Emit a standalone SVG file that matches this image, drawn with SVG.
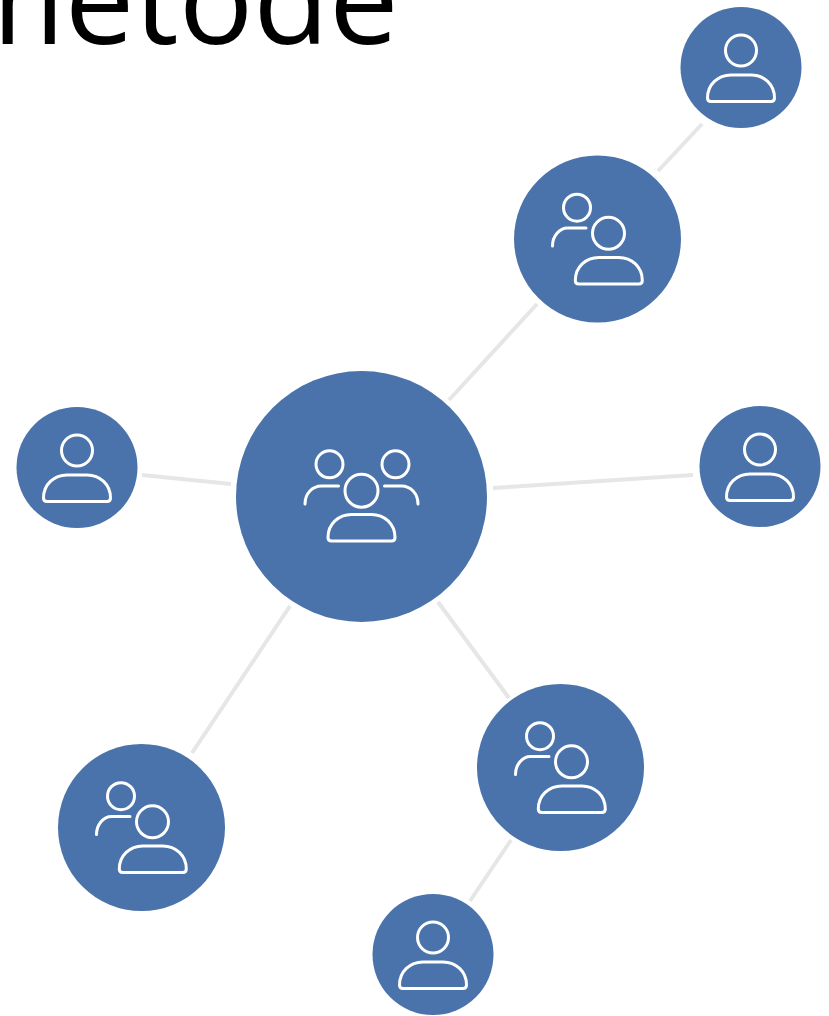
<svg xmlns="http://www.w3.org/2000/svg" width="829" height="1016" viewBox="0 0 829 1016">
<style>
.bg{fill:#4a73ab}
.ic{fill:none;stroke:#fff;stroke-width:3;stroke-linecap:round;stroke-linejoin:round}
.ln{stroke:#e6e6e6;stroke-width:4;fill:none}
.t{font-family:"Open Sans",sans-serif;font-size:124px;fill:#000}
</style>
<defs>
<path id="body" d="M-30,34H30Q33.5,34 33.5,30.500C33.500,17 23,7.500 10,7.500H-10C-23,7.500 -33.500,17 -33.500,30.500Q-33.500,34 -30,34Z"/>
<g id="one" class="ic"><circle cx="0" cy="-17" r="15.500"/><use href="#body"/></g>
<g id="two" class="ic"><circle cx="-20.500" cy="-31.300" r="13.500"/><circle cx="11" cy="-5.700" r="16"/><use href="#body" x="11.300" y="11"/><path d="M-45,7C-45,-3 -38,-11 -30,-11H-11.500"/></g>
<g id="three" class="ic"><circle cx="-32" cy="-32.200" r="13.500"/><circle cx="34" cy="-32.200" r="13.500"/><circle cx="0" cy="-5.800" r="16.500"/><use href="#body" x="0" y="10.500"/><path d="M-56.500,7.500C-56.500,-3 -49,-10.500 -40,-10.500H-23M56.500,7.500C56.500,-3 49,-10.500 40,-10.500H23"/></g>
</defs>
<text class="t" x="-50" y="44">metode</text>
<g id="connectors">
<line class="ln" x1="702" y1="124" x2="658" y2="171"/>
<line class="ln" x1="537" y1="304" x2="449" y2="400"/>
<line class="ln" x1="142" y1="475" x2="231" y2="484"/>
<line class="ln" x1="493" y1="488" x2="693" y2="475"/>
<line class="ln" x1="290" y1="606" x2="192" y2="753"/>
<line class="ln" x1="438" y1="602" x2="509" y2="698"/>
<line class="ln" x1="511" y1="840" x2="470" y2="901"/>
</g>
<g id="node-center" transform="translate(361.500,496.500)"><circle class="bg" r="125.500"/><use href="#three"/></g>
<g id="node-top-mid" transform="translate(597.500,239)"><circle class="bg" r="83.500"/><use href="#two"/></g>
<g id="node-bottom-left" transform="translate(141.500,827.500)"><circle class="bg" r="83.500"/><use href="#two"/></g>
<g id="node-bottom-mid" transform="translate(560.500,767.500)"><circle class="bg" r="83.500"/><use href="#two"/></g>
<g id="node-top-right" transform="translate(741,67.500)"><circle class="bg" r="60.500"/><use href="#one"/></g>
<g id="node-left" transform="translate(77,467.500)"><circle class="bg" r="60.500"/><use href="#one"/></g>
<g id="node-right" transform="translate(760,466.500)"><circle class="bg" r="60.500"/><use href="#one"/></g>
<g id="node-bottom" transform="translate(433,954.500)"><circle class="bg" r="60.500"/><use href="#one"/></g>
</svg>
